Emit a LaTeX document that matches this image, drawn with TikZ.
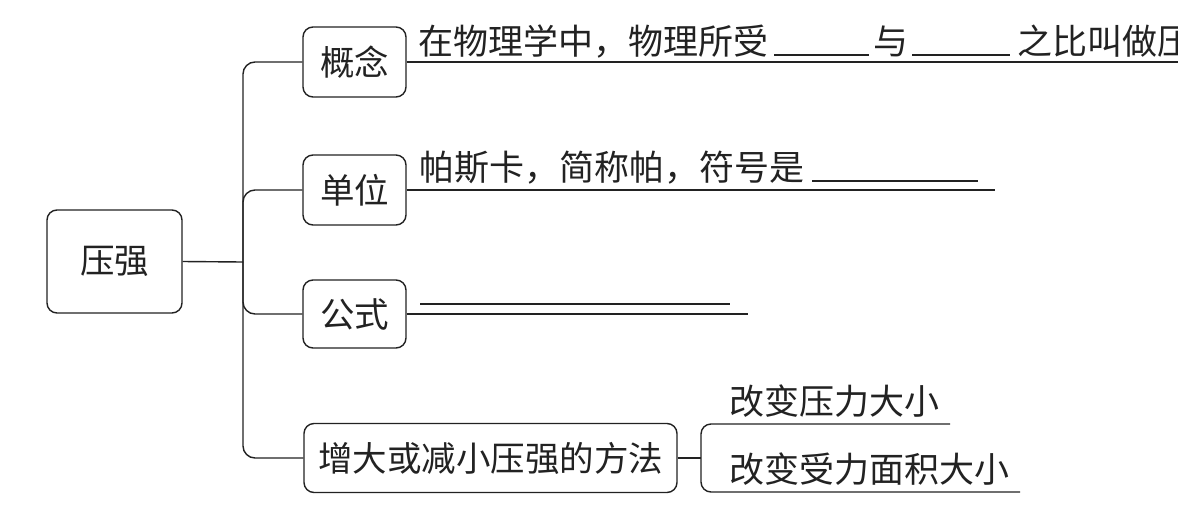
\documentclass[tikz,border=0pt]{standalone}
\usepackage{fontspec}
\newfontfamily\cjk{Noto Sans CJK SC}
\definecolor{ink}{HTML}{222222}
\newcommand{\blank}[1]{\rule[-1.5pt]{#1}{1.4pt}}
\tikzset{
  boxnode/.style={draw=ink, rounded corners=10pt, line width=1.4pt, inner sep=0pt,
    font=\cjk\fontsize{34.5}{40}\selectfont, text=ink},
  conn/.style={draw=ink, line width=1.4pt},
  linetext/.style={anchor=base west, inner sep=0pt, font=\cjk\fontsize{35}{40}\selectfont, text=ink}
}
\begin{document}
\begin{tikzpicture}[x=1pt,y=-1pt]
\clip (0,0) rectangle (1178,512);
\fill[white] (0,0) rectangle (1178,512);
% boxes
\node[boxnode, minimum width=135pt, minimum height=103pt] (root) at (114.5,261.5) {压强};
\node[boxnode, minimum width=103pt, minimum height=70pt] (gn) at (354.5,62) {概念};
\node[boxnode, minimum width=103pt, minimum height=70pt] (dw) at (354.5,190) {单位};
\node[boxnode, minimum width=103pt, minimum height=68pt] (gs) at (354.5,314) {公式};
\node[boxnode, minimum width=373pt, minimum height=69pt] (ff) at (490.5,458) {增大或减小压强的方法};
% trunk
\coordinate (j) at (243,262);
\draw[conn] (root.east) -- (j);
\draw[conn, rounded corners=12pt] (j) |- (gn.west);
\draw[conn, rounded corners=12pt] (j) |- (dw.west);
\draw[conn, rounded corners=12pt] (j) |- (gs.west);
\draw[conn, rounded corners=12pt] (j) |- (ff.west);
% concept line
\coordinate (e1) at (1180,62);
\draw[conn] (gn.east) -- (e1);
\node[linetext] (t1) at (418,54) {在物理学中，物理所受\hspace{6pt}\blank{95pt}\hspace{4pt}与\hspace{4pt}\blank{98pt}\hspace{7pt}之比叫做压};
% unit line
\coordinate (e2) at (995,190);
\draw[conn] (dw.east) -- (e2);
\node[linetext] (t2) at (419,180) {帕斯卡，简称帕，符号是\hspace{8pt}\blank{166pt}};
% formula lines
\coordinate (e3) at (748,314);
\draw[conn] (gs.east) -- (e3);
\draw[conn] (420,304) -- (730,304);
% methods
\coordinate (b) at (701,458);
\draw[conn] (ff.east) -- (b);
\coordinate (bt) at (950,424);
\coordinate (bb) at (1020,492);
\draw[conn, rounded corners=10pt] (bt) -- (701,424) -- (701,492) -- (bb);
\node[linetext] (m1) at (729,414) {改变压力大小};
\node[linetext] (m2) at (729,482) {改变受力面积大小};
\end{tikzpicture}
\end{document}
